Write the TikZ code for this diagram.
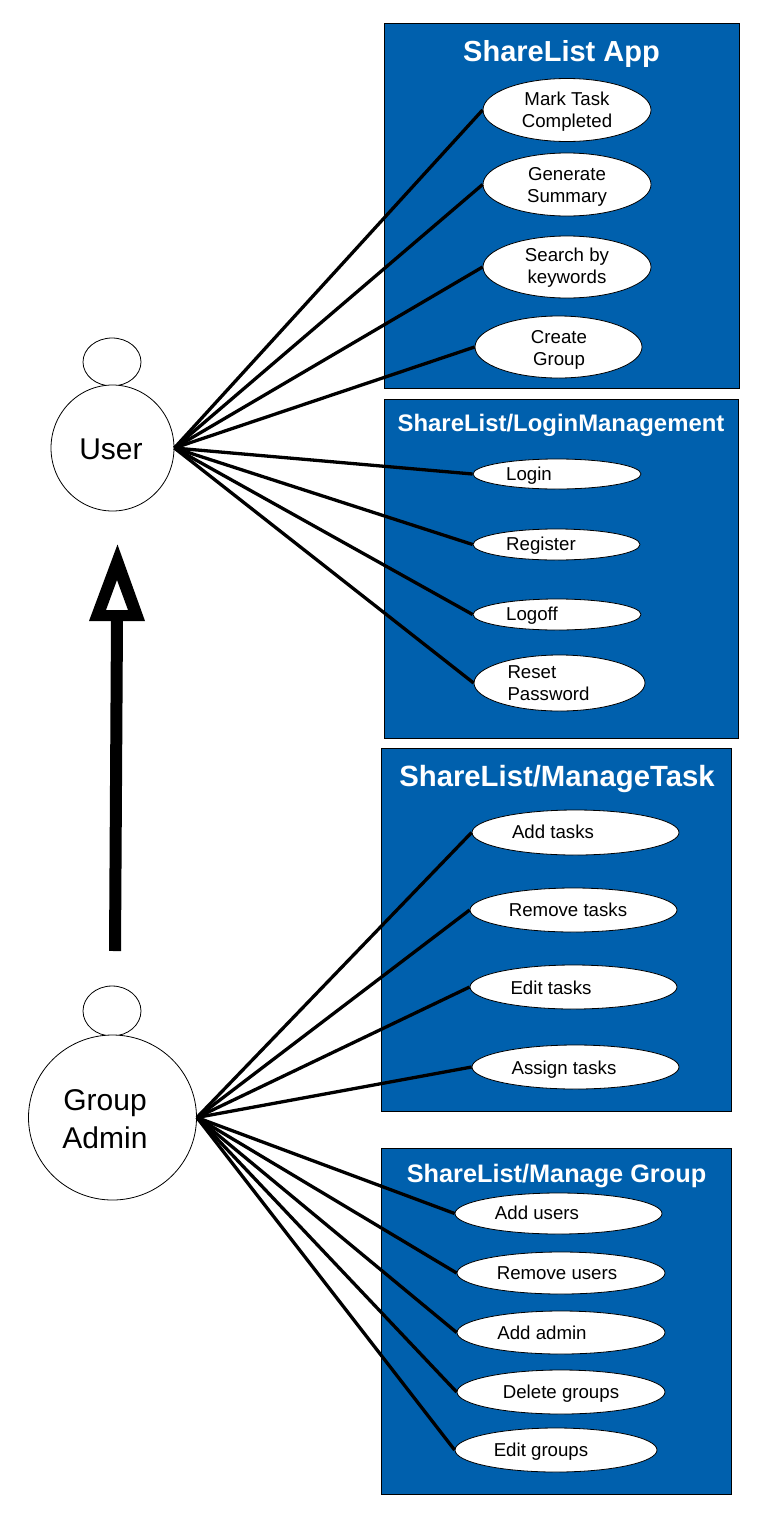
\documentclass[tikz,border=0pt]{standalone}
\usepackage{fontspec}
\setmainfont{Liberation Sans}
\definecolor{boxblue}{HTML}{0060AD}
\tikzset{
  sysbox/.style={draw=black,line width=0.8pt,fill=boxblue},
  systitle/.style={text=white,font=\bfseries,inner sep=0pt},
  uc/.style={draw=black,line width=0.8pt,fill=white,ellipse,inner sep=0pt},
  uctext/.style={inner sep=0pt,align=center,font=\fontsize{18.67}{22}\selectfont},
  actor/.style={draw=black,line width=0.8pt,fill=white,ellipse,inner sep=0pt},
  actortext/.style={inner sep=0pt,align=center,font=\fontsize{30}{38}\selectfont},
  link/.style={draw=black,line width=3.3pt},
  inherit/.style={draw=black,line width=12pt}
}
\usetikzlibrary{shapes.geometric}
\newcommand{\usecase}[8]{%
  \node[uc,minimum width=#4pt,minimum height=#5pt] (#1) at (#2,#3) {};
  \node[uctext] at (#6,#7) {#8};
}
\begin{document}
\begin{tikzpicture}[x=1pt,y=-1pt]
\useasboundingbox[fill=white] (0,0) rectangle (768,1518);
\draw[sysbox] (384.5,23.5) rectangle (739,388);
\draw[sysbox] (384.5,399.5) rectangle (738,738);
\draw[sysbox] (381.5,748.5) rectangle (731,1111);
\draw[sysbox] (381.5,1148.5) rectangle (731,1494);
\node[systitle,font=\bfseries\fontsize{29}{34}\selectfont] (t1) at (561.5,54) {ShareList App};
\node[systitle,font=\bfseries\fontsize{23.9}{28}\selectfont] (t2) at (561,425) {ShareList/LoginManagement};
\node[systitle,font=\bfseries\fontsize{29.3}{34}\selectfont] (t3) at (557,779) {ShareList/ManageTask};
\node[systitle,font=\bfseries\fontsize{25.3}{30}\selectfont] (t4) at (556.5,1176) {ShareList/Manage Group};
\usecase{a1}{567}{110}{168}{63}{567}{112}{Mark Task\\Completed}
\usecase{a2}{567}{184.5}{168}{63}{567}{187}{Generate\\Summary}
\usecase{a3}{567}{267}{168}{62}{567}{268}{Search by\\keywords}
\usecase{a4}{558.5}{347}{167}{62}{559}{350}{Create\\Group}
\usecase{b1}{557}{474}{168}{30}{529}{476}{Login}
\usecase{b2}{556.5}{544.5}{167}{31}{541}{546}{Register}
\usecase{b3}{557}{614.5}{168}{31}{532}{616}{Logoff}
\usecase{b4}{559.5}{683}{171}{56}{548.5}{685}{\begin{tabular}{@{}l@{}}Reset\\Password\end{tabular}}
\usecase{c1}{575.5}{832.5}{207}{45}{553}{832}{Add tasks}
\usecase{c2}{573.5}{910}{207}{44}{568}{910}{Remove tasks}
\usecase{c3}{573.5}{987}{207}{44}{551}{988}{Edit tasks}
\usecase{c4}{575.5}{1067}{207}{44}{564}{1070}{Assign tasks}
\usecase{d1}{558.5}{1213.5}{207}{41}{537}{1213}{Add users}
\usecase{d2}{561}{1273}{208}{42}{557}{1273}{Remove users}
\usecase{d3}{561}{1332.5}{208}{43}{542}{1333}{Add admin}
\usecase{d4}{561}{1392}{208}{44}{561}{1394}{Delete groups}
\usecase{d5}{556}{1450}{202}{44}{541}{1452}{Edit groups}
\node[actor,minimum width=58pt,minimum height=48pt] (uh) at (112,362) {};
\node[actor,minimum width=123pt,minimum height=126pt] (ub) at (112.5,448) {};
\node[actortext] at (111,449) {User};
\node[actor,minimum width=58pt,minimum height=50pt] (gh) at (112,1011) {};
\node[actor,minimum width=168pt,minimum height=165pt] (gb) at (112.5,1117.5) {};
\node[actortext] at (105,1119) {Group\\Admin};
\foreach \t in {a1,a2,a3,a4,b1,b2,b3,b4} \draw[link] (ub.east) -- (\t.west);
\foreach \t in {c1,c2,c3,c4,d1,d2,d3,d4,d5} \draw[link] (gb.east) -- (\t.west);
\coordinate (sfrom) at (115,951);
\coordinate (sto) at (117,620);
\draw[inherit] (sfrom) -- (sto);
\fill[black,even odd rule] (117.5,544.5) -- (145,621) -- (89,621) -- cycle (117,580) -- (128,610) -- (106,610) -- cycle;
\end{tikzpicture}
\end{document}
